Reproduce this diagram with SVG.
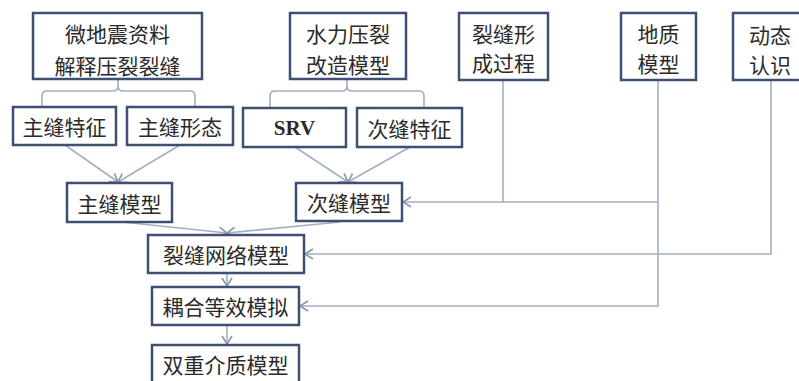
<svg xmlns="http://www.w3.org/2000/svg" width="799" height="381" viewBox="0 0 799 381">
<defs>
<style>
.box{fill:#ffffff;stroke:#3f4f73;stroke-width:2.5}
.t{font-family:"Noto Sans CJK SC","Liberation Serif",sans-serif;font-size:21px;fill:#2a2a2a;text-anchor:middle;dominant-baseline:central}
.s{font-family:"Liberation Serif",serif;font-size:21px;fill:#2a2a2a;text-anchor:middle;dominant-baseline:central;font-weight:bold}
.c{fill:none;stroke:#a3afc3;stroke-width:1.6}
</style>
<marker id="ah" markerWidth="12" markerHeight="12" refX="10" refY="6" orient="auto" markerUnits="userSpaceOnUse">
<path d="M2,1 L10,6 L2,11" fill="none" stroke="#8796b2" stroke-width="1.6"/>
</marker>
</defs>
<rect width="799" height="381" fill="#ffffff"/>
<g id="connectors">
<path class="c" d="M118,79 V86 Q118,91 113,91 H47 Q42,91 42,96 V108"/>
<path class="c" d="M118,86 Q118,91 123,91 H190 Q195,91 195,96 V108"/>
<path class="c" d="M347,79 V86 Q347,91 342,91 H275 Q270,91 270,96 V108"/>
<path class="c" d="M347,86 Q347,91 352,91 H419 Q424,91 424,96 V108"/>
<path class="c" d="M65,145 L118,182" marker-end="url(#ah)"/>
<path class="c" d="M180,145 L118,182" marker-end="url(#ah)"/>
<path class="c" d="M295,147 L348,182" marker-end="url(#ah)"/>
<path class="c" d="M410,147 L348,182" marker-end="url(#ah)"/>
<path class="c" d="M122,222 L227,233" marker-end="url(#ah)"/>
<path class="c" d="M340,222 L227,233" marker-end="url(#ah)"/>
<path class="c" d="M227,273 V286" marker-end="url(#ah)"/>
<path class="c" d="M227,325 V344" marker-end="url(#ah)"/>
<path class="c" d="M503,80 V202 H403" marker-end="url(#ah)"/>
<path class="c" d="M658,202 H503"/>
<path class="c" d="M658,80 V306 H300" marker-end="url(#ah)"/>
<path class="c" d="M771,80 V254 H305" marker-end="url(#ah)"/>
</g>
<g id="n1"><rect class="box" x="33" y="13" width="169" height="66"/><text class="t" x="117.5" y="33">微地震资料</text><text class="t" x="117.5" y="65">解释压裂裂缝</text></g>
<g id="n2"><rect class="box" x="290" y="13" width="116" height="66"/><text class="t" x="348" y="33">水力压裂</text><text class="t" x="348" y="64">改造模型</text></g>
<g id="n3"><rect class="box" x="459" y="13" width="89" height="67"/><text class="t" x="503.5" y="33">裂缝形</text><text class="t" x="503.5" y="62">成过程</text></g>
<g id="n4"><rect class="box" x="621" y="13" width="75" height="67"/><text class="t" x="658.5" y="33">地质</text><text class="t" x="658.5" y="63">模型</text></g>
<g id="n5"><rect class="box" x="733" y="13" width="70" height="67"/><text class="t" x="770" y="34">动态</text><text class="t" x="770" y="64">认识</text></g>
<g id="n6"><rect class="box" x="13" y="107" width="103" height="38"/><text class="t" x="64.5" y="126">主缝特征</text></g>
<g id="n7"><rect class="box" x="127" y="107" width="106" height="38"/><text class="t" x="180" y="126">主缝形态</text></g>
<g id="n8"><rect class="box" x="243" y="108" width="103" height="39"/><text class="s" x="294.5" y="127.5">SRV</text></g>
<g id="n9"><rect class="box" x="357" y="108" width="105" height="39"/><text class="t" x="409.5" y="127.5">次缝特征</text></g>
<g id="n10"><rect class="box" x="67" y="183" width="105" height="39"/><text class="t" x="119.5" y="202.5">主缝模型</text></g>
<g id="n11"><rect class="box" x="296" y="183" width="106" height="38"/><text class="t" x="349" y="202">次缝模型</text></g>
<g id="n12"><rect class="box" x="148" y="235" width="156" height="38"/><text class="t" x="226" y="254">裂缝网络模型</text></g>
<g id="n13"><rect class="box" x="152" y="287" width="147" height="38"/><text class="t" x="225.5" y="306">耦合等效模拟</text></g>
<g id="n14"><rect class="box" x="152" y="345" width="147" height="40"/><text class="t" x="225.5" y="364">双重介质模型</text></g>
</svg>
